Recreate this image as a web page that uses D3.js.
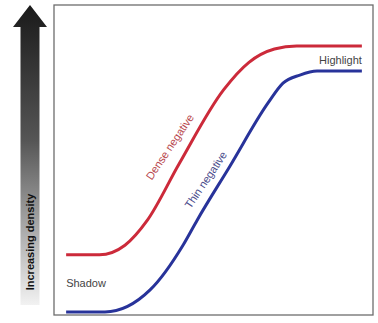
<!DOCTYPE html>
<html><head><meta charset="utf-8">
<script src="https://cdn.jsdelivr.net/npm/d3@7"></script>
<style>body{margin:0;background:#fff;}svg{display:block;}</style>
</head><body>
<svg id="c" width="378" height="323"></svg>
<script>
// exposure (x) positions and density (y) values for each negative
const exposure = [3.5, 14, 22, 29, 39, 53, 61, 69, 76, 96.5];
const denseNeg = [19.4, 19.4, 22.5, 30.5, 48.7, 72.6, 81.5, 85.8, 86.8, 86.8];
const exposureThin = [3.5, 15.7, 29.9, 40.3, 44.7, 55, 67, 71.7, 77, 82.4, 96.5];
const thinNeg = [1, 1, 8.1, 22.6, 30.6, 48, 68.4, 74.8, 77.4, 78.7, 78.7];
const labels = ["Dense negative", "Thin negative", "Highlight", "Shadow", "Increasing density"];

const svg = d3.select("#c");
const box = {l:54, t:5, r:373, b:315};
const x = d3.scaleLinear().domain([0,100]).range([55,373]);
const y = d3.scaleLinear().domain([0,100]).range([315,5]);

// gradient arrow
const defs = svg.append("defs");
const g = defs.append("linearGradient").attr("id","ag").attr("x1",0).attr("y1",0).attr("x2",0).attr("y2",1);
g.append("stop").attr("offset","0%").attr("stop-color","#1a1a1a");
g.append("stop").attr("offset","45%").attr("stop-color","#555");
g.append("stop").attr("offset","100%").attr("stop-color","#f2f2f2");
svg.append("path")
  .attr("d","M30,5 L47,27 L39.5,27 L39.5,305 L20.5,305 L20.5,27 L13,27 Z")
  .attr("fill","url(#ag)");
svg.append("text").attr("transform","translate(34,242) rotate(-90)")
  .attr("text-anchor","middle").attr("font-family","Liberation Sans Narrow, Liberation Sans, sans-serif")
  .attr("font-weight","bold").attr("font-size",11).attr("fill","#111").text(labels[4]);

// frame
svg.append("rect").attr("x",box.l).attr("y",box.t).attr("width",box.r-box.l).attr("height",box.b-box.t)
  .attr("fill","none").attr("stroke","#6d6d6d").attr("stroke-width",1.3);

const line = d3.line().curve(d3.curveMonotoneX);
svg.append("path").attr("d", line(exposure.map((e,i)=>[x(e), y(denseNeg[i])])))
  .attr("fill","none").attr("stroke","#cc2a3a").attr("stroke-width",3);
svg.append("path").attr("d", line(exposureThin.map((e,i)=>[x(e), y(thinNeg[i])])))
  .attr("fill","none").attr("stroke","#28339a").attr("stroke-width",3);

const ff = "Liberation Sans Narrow, Liberation Sans, sans-serif";
svg.append("text").attr("transform","translate(173,149) rotate(-56)").attr("text-anchor","middle")
  .attr("font-family",ff).attr("font-size",11).attr("fill","#b8484e").text(labels[0]);
svg.append("text").attr("transform","translate(209,182) rotate(-56)").attr("text-anchor","middle")
  .attr("font-family",ff).attr("font-size",11).attr("fill","#4a4c8c").text(labels[1]);
svg.append("text").attr("x",x(96.5)).attr("y",64).attr("text-anchor","end")
  .attr("font-family",ff).attr("font-size",11).attr("fill","#444").text(labels[2]);
svg.append("text").attr("x",x(3.5)).attr("y",287)
  .attr("font-family",ff).attr("font-size",11).attr("fill","#444").text(labels[3]);
</script>
</body></html>
